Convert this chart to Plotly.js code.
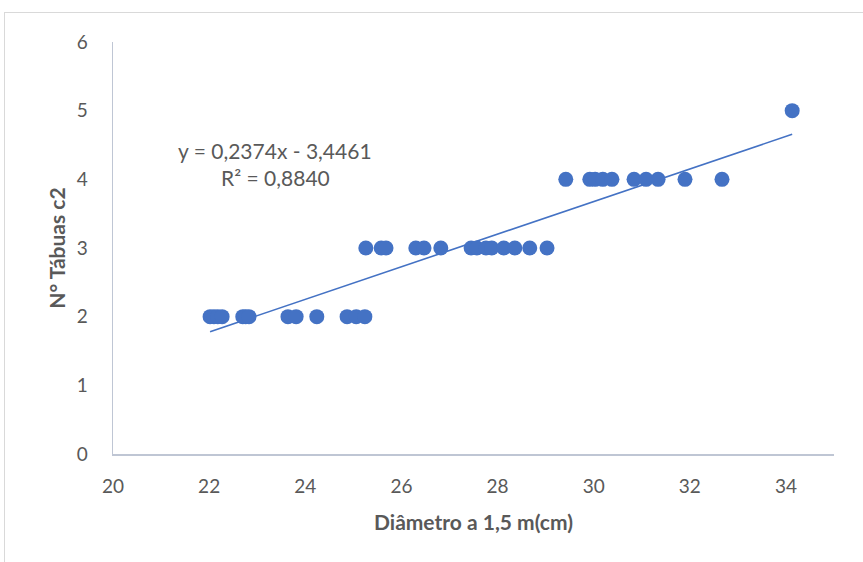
<!DOCTYPE html>
<html><head><meta charset="utf-8">
<script src="https://cdn.plot.ly/plotly-3.0.1.min.js"></script>
<style>
html,body{margin:0;padding:0;background:#fff;overflow:hidden}
#chart{position:absolute;left:0;top:0;width:863px;height:562px}
#frame{position:absolute;left:4px;top:12px;width:880px;height:580px;border:1px solid #d9d9d9;pointer-events:none}
</style></head>
<body>
<div id="chart"></div>
<div id="frame"></div>
<script>
const diametro = [22.02,22.10,22.18,22.27,22.70,22.76,22.83,23.64,23.81,24.24,24.87,25.06,25.24,
  25.26,25.58,25.68,26.30,26.47,26.82,27.45,27.57,27.76,27.88,28.13,28.36,28.67,29.03,
  29.42,29.92,30.03,30.19,30.38,30.84,31.09,31.34,31.90,32.67,
  34.13];
const tabuas = [2,2,2,2,2,2,2,2,2,2,2,2,2,
  3,3,3,3,3,3,3,3,3,3,3,3,3,3,
  4,4,4,4,4,4,4,4,4,4,
  5];
const slope = 0.2374, intercept = -3.4461, r2 = "0,8840";
const xTicks = [20,22,24,26,28,30,32,34];
const yTicks = [0,1,2,3,4,5,6];

const xmin = Math.min(...diametro), xmax = Math.max(...diametro);
const trendX = [xmin, xmax];
const trendY = trendX.map(v => slope*v + intercept);
const blue = '#4472C4', grey = '#595959';
const font = 'Lato, "Open Sans", sans-serif';

Plotly.newPlot('chart', [
  {x: trendX, y: trendY, type:'scatter', mode:'lines', line:{color:blue, width:1.6}, hoverinfo:'skip'},
  {x: diametro, y: tabuas, type:'scatter', mode:'markers', marker:{color:blue, size:15, line:{width:0}}}
], {
  width:863, height:562, showlegend:false,
  paper_bgcolor:'#fff', plot_bgcolor:'#fff',
  margin:{l:113, r:29, t:42, b:108},
  font:{family:font, color:grey},
  xaxis:{range:[20,35], tickvals:xTicks, ticktext:xTicks.map(String), showgrid:false, zeroline:false,
    showline:true, linecolor:'#bfc6d4', linewidth:1.5, ticks:'', ticklabelstandoff:15,
    tickfont:{size:19, color:grey, family:font},
    title:{text:'<b>Diâmetro a 1,5 m(cm)</b>', font:{size:21, color:grey, family:font}, standoff:19}},
  yaxis:{range:[0,6], tickvals:yTicks, ticktext:yTicks.map(String), showgrid:false, zeroline:false,
    showline:true, linecolor:'#bfc6d4', linewidth:1.5, ticks:'', ticklabelstandoff:20,
    tickfont:{size:19, color:grey, family:font},
    title:{text:'<b>N° Tábuas c2</b>', font:{size:21, color:grey, family:font}, standoff:5}},
  annotations:[
    {xref:'paper', yref:'paper', x:(275-113)/721, y:(454-150)/412, text:'y = '+String(slope).replace('.',',')+'x - '+String(-intercept).replace('.',','),
     showarrow:false, font:{size:21, color:grey, family:font}, xanchor:'center', yanchor:'middle'},
    {xref:'paper', yref:'paper', x:(275-113)/721, y:(454-178)/412, text:'R² = '+r2,
     showarrow:false, font:{size:21, color:grey, family:font}, xanchor:'center', yanchor:'middle'}
  ]
}, {displayModeBar:false, staticPlot:true});
</script>
</body></html>
